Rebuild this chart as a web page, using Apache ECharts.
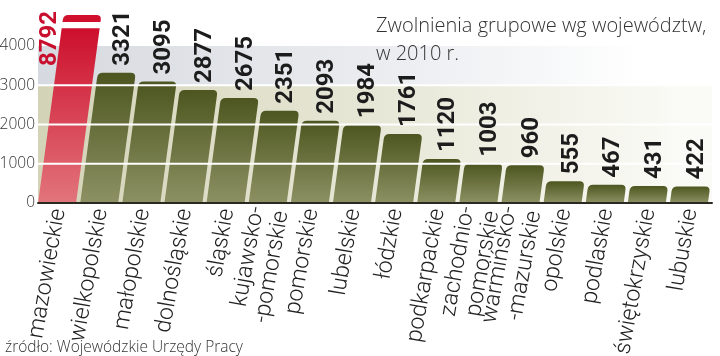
<!DOCTYPE html>
<html><head><meta charset="utf-8">
<script src="https://cdn.jsdelivr.net/npm/echarts@6/dist/echarts.min.js"></script>
<style>html,body{margin:0;padding:0;background:#fff}#c{width:720px;height:356px}</style>
</head><body><div id="c"></div>
<script>
const categories = ['mazowieckie','wielkopolskie','małopolskie','dolnośląskie','śląskie','kujawsko-\n-pomorskie','pomorskie','lubelskie','łódzkie','podkarpackie','zachodnio-\npomorskie','warmińsko-\n-mazurskie','opolskie','podlaskie','świętokrzyskie','lubuskie'];
const values = [8792,3321,3095,2877,2675,2351,2093,1984,1761,1120,1003,960,555,467,431,422];
const yMin = 0, yMax = 4000, yStep = 1000;
const gridLineValues = [1000,2000,3000];
const bandRanges = [[0,3000],[3000,4000]];
const brokenBar = {low: 4455, high: 4610, top: 4790};
const titleText = 'Zwolnienia grupowe wg województw,\nw 2010 r.';
const sourceText = 'źródło: Wojewódzkie Urzędy Pracy';

const SLANT = 0.135, RADIUS = 5, BAR_W = 38, LABEL_ROT = 90;
const lightFont = '"Open Sans", "Lato", sans-serif';

function barPath(x0, y0, yt, bw, rounded) {
  const h = y0 - yt, s = SLANT;
  const tl = x0 + s * h, r = rounded ? RADIUS : 0;
  if (!r) {
    return `M${x0} ${y0}L${tl} ${yt}L${tl + bw} ${yt}L${x0 + bw} ${y0}Z`;
  }
  return `M${x0} ${y0}L${x0 + s * (h - r)} ${yt + r}Q${tl} ${yt} ${tl + r} ${yt}` +
         `L${tl + bw - r} ${yt}Q${tl + bw} ${yt} ${tl + bw - s * r} ${yt + r}L${x0 + bw} ${y0}Z`;
}

function renderBar(params, api) {
  const i = api.value(0), v = api.value(1);
  const bw = BAR_W;
  const base = api.coord([i, 0]);
  const x0 = base[0] - bw / 2 - 2, y0 = base[1];
  const children = [];
  const green = new echarts.graphic.LinearGradient(0, 0, 0, 1, [
    {offset: 0, color: '#4d5620'}, {offset: 1, color: '#8c9163'}]);
  const red = new echarts.graphic.LinearGradient(0, 0, 0, 1, [
    {offset: 0, color: '#cd0f2c'}, {offset: 1, color: '#e2757c'}]);
  if (v > yMax) {
    const yLow = api.coord([i, brokenBar.low])[1];
    const yHigh = api.coord([i, brokenBar.high])[1];
    const yTop = api.coord([i, brokenBar.top])[1];
    children.push({type: 'path', shape: {pathData: barPath(x0, y0, yLow, bw, false)}, style: {fill: red}});
    const capX0 = x0 + SLANT * (y0 - yHigh);
    children.push({type: 'path', shape: {pathData: barPath(capX0, yHigh, yTop, bw, true)}, style: {fill: '#d0102d'}});
  } else {
    const yt = api.coord([i, v])[1];
    children.push({type: 'path', shape: {pathData: barPath(x0, y0, yt, bw, true)}, style: {fill: green}});
  }
  return {type: 'group', children};
}

function renderBand(params, api) {
  const cs = params.coordSys;
  const lo = api.coord([0, api.value(0)])[1];
  const hi = api.coord([0, api.value(1)])[1];
  const isTop = params.dataIndex === 1;
  const fill = new echarts.graphic.LinearGradient(0, 0, 1, 0, isTop ? [
      {offset: 0, color: '#d6d9df'}, {offset: 0.55, color: '#eceef1'}, {offset: 0.9, color: '#ffffff'}] : [
      {offset: 0, color: '#d3d3b7'}, {offset: 0.55, color: '#e9e9da'}, {offset: 0.95, color: '#fafaf6'}]);
  return {type: 'rect', shape: {x: cs.x, y: hi, width: cs.width, height: lo - hi}, style: {fill}};
}

function renderLine(params, api) {
  const cs = params.coordSys;
  const y = api.coord([0, api.value(0)])[1];
  return {type: 'line', shape: {x1: cs.x, y1: y, x2: cs.x + cs.width, y2: y}, style: {stroke: '#ffffff', lineWidth: 2}};
}

const barData = values.map((v, i) => [i, v]);
const chart = echarts.init(document.getElementById('c'), null, {renderer: 'canvas'});
const labelStyle = {fontFamily: 'Roboto, sans-serif', fontWeight: 'bold', fontSize: 24};
chart.setOption({
  animation: false,
  backgroundColor: '#ffffff',
  title: [
    {text: titleText, left: 371, top: 7, textStyle: {fontFamily: lightFont, fontWeight: 300, fontSize: 20, lineHeight: 28, color: '#333'}},
    {text: sourceText, left: 0, top: 335, textStyle: {fontFamily: lightFont, fontWeight: 300, fontSize: 15.5, color: '#333'}}
  ],
  grid: {left: 38, right: 8, top: 46, bottom: 153, outerBoundsMode: 'none', containLabel: false},
  xAxis: {
    type: 'category', data: categories, boundaryGap: true,
    axisLine: {show: true, lineStyle: {color: '#2a2a20', width: 2}},
    axisTick: {show: false},
    axisLabel: {rotate: 80, margin: 6, fontFamily: 'Roboto, sans-serif', fontWeight: 300, fontSize: 23, lineHeight: 25, color: '#222', interval: 0},
    z: 10
  },
  yAxis: {
    type: 'value', min: yMin, max: yMax, interval: yStep,
    axisLine: {show: false}, axisTick: {show: false}, splitLine: {show: false},
    axisLabel: {margin: 3, fontFamily: lightFont, fontWeight: 300, fontSize: 15.5, color: '#333', formatter: v => String(v)}
  },
  series: [
    {type: 'custom', name: 'bands', renderItem: renderBand, data: bandRanges, z: 0, silent: true, clip: false},
    {type: 'custom', name: 'bars', renderItem: renderBar, data: barData, encode: {x: 0, y: 1}, z: 2, clip: false},
    {type: 'custom', name: 'lines', renderItem: renderLine, data: gridLineValues.map(v => [v]), z: 5, silent: true, clip: false},
    {type: 'bar', name: 'labels', data: [], barWidth: BAR_W, itemStyle: {color: 'rgba(0,0,0,0)'}, z: 8, clip: false, silent: true}
  ]
});

// second pass: place rotated value labels using the axis scale
const y0px = chart.convertToPixel({gridIndex: 0}, [0, 0])[1];
const labelData = values.map((v, i) => {
  const shown = v > yMax ? brokenBar.top : v;
  const h = y0px - chart.convertToPixel({gridIndex: 0}, [i, shown])[1];
  const shift = SLANT * h;
  const label = v > yMax
    ? {show: true, position: [shift - 15, -4], rotate: LABEL_ROT, align: 'right', verticalAlign: 'middle', color: '#c8102e', ...labelStyle}
    : {show: true, position: [BAR_W / 2 - 2 + shift + 6, -7], rotate: LABEL_ROT, align: 'left', verticalAlign: 'middle', color: '#1c1c1c', ...labelStyle};
  return {value: shown, label};
});
chart.setOption({series: [{}, {}, {}, {
  data: labelData,
  label: {show: true, formatter: p => String(values[p.dataIndex])}
}]});
</script></body></html>
